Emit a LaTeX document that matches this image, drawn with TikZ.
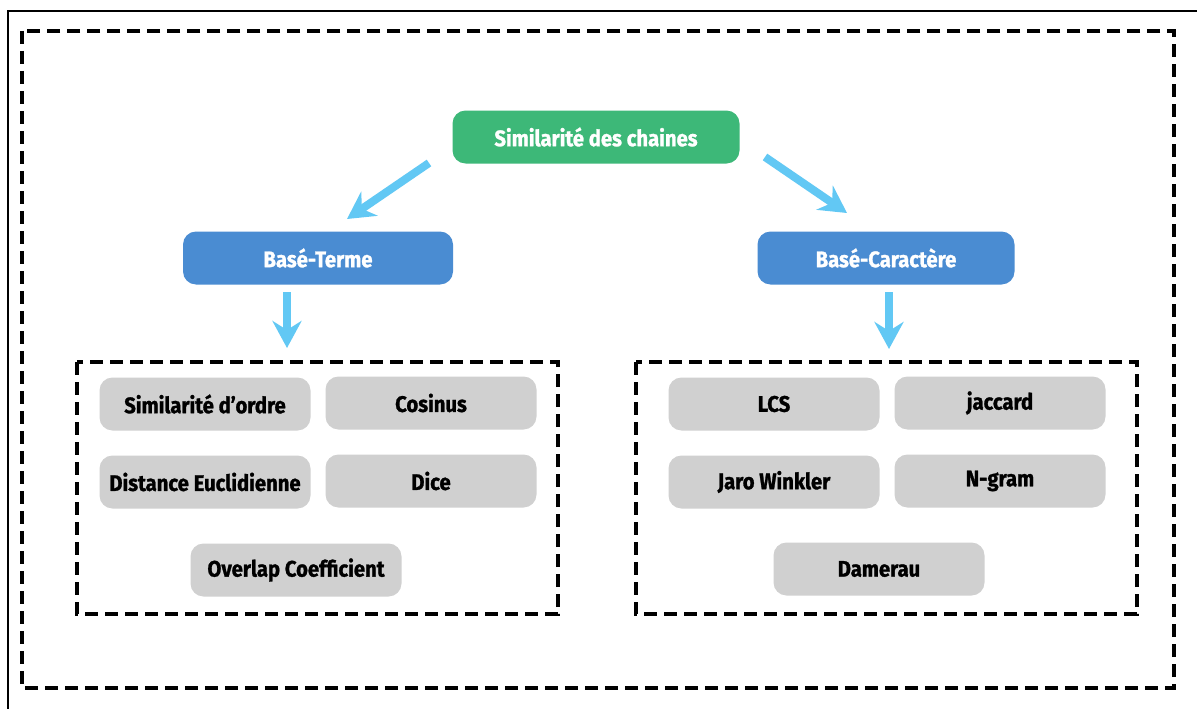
\documentclass[tikz,border=0pt]{standalone}
\usepackage{fontspec}
\setmainfont{Fira Sans}[FakeStretch=0.9]
\newfontfamily\labelfont{Fira Sans}[FakeStretch=0.9, BoldFeatures={FakeBold=1.2}]
\usetikzlibrary{arrows.meta}
\definecolor{rootgreen}{HTML}{3DB878}
\definecolor{catblue}{HTML}{4A8CD2}
\definecolor{leafgray}{HTML}{D0D0D0}
\definecolor{flowblue}{HTML}{62C8F4}
\begin{document}
\begin{tikzpicture}[x=1pt,y=-1pt,
  box/.style={rounded corners=13pt, minimum height=53pt, inner sep=0pt,
    font=\labelfont\fontsize{22.5}{25}\selectfont\bfseries},
  root/.style={box, fill=rootgreen, text=white, minimum width=287pt},
  cat/.style={box, fill=catblue, text=white, minimum width=270pt},
  leaf/.style={box, fill=leafgray, text=black, minimum width=211pt},
  group/.style={draw=black, line width=3.2pt, dash pattern=on 13pt off 7pt},
  flow/.style={draw=flowblue, line width=8pt,
    -{Stealth[length=27pt, width=29pt, inset=9pt]}}]
\useasboundingbox (0,0) rectangle (1197,709);
\fill[white] (0,0) rectangle (1197,709);

% frames
\draw[line width=2.2pt] (8,714) -- (8,11) -- (1202,11);
\draw[group] (22,31) rectangle (1174,688);
\draw[group] (77,362) rectangle (558,614);
\draw[group] (636,362) rectangle (1137,614);

% top levels
\node[root] (top) at (596,137) {Similarité des chaines};
\node[cat] (term) at (318,258) {Basé-Terme};
\node[cat, minimum width=257pt] (char) at (886,258) {Basé-Caractère};

% term-based measures
\node[leaf] (ordre) at (205,404) {Similarité d’ordre};
\node[leaf] (cos)   at (431,403) {Cosinus};
\node[leaf] (eucl)  at (205,482) {Distance Euclidienne};
\node[leaf] (dice)  at (431,481) {Dice};
\node[leaf] (over)  at (296,570) {Overlap Coefficient};

% character-based measures
\node[leaf] (lcs)   at (774,404) {LCS};
\node[leaf] (jac)   at (1000,403) {jaccard};
\node[leaf] (jaro)  at (774,482) {Jaro Winkler};
\node[leaf] (ngram) at (1000,481) {N-gram};
\node[leaf] (dam)   at (879,569) {Damerau};

% arrow ends
\coordinate (l1) at (429,163);
\coordinate (l2) at (347,219);
\coordinate (r1) at (765,157);
\coordinate (r2) at (847,213);
\coordinate (d1) at (287,292);
\coordinate (d2) at (287,348);
\coordinate (e1) at (889,292);
\coordinate (e2) at (889,349);

\draw[flow] (l1) -- (l2);
\draw[flow] (r1) -- (r2);
\draw[flow] (d1) -- (d2);
\draw[flow] (e1) -- (e2);
\end{tikzpicture}
\end{document}
